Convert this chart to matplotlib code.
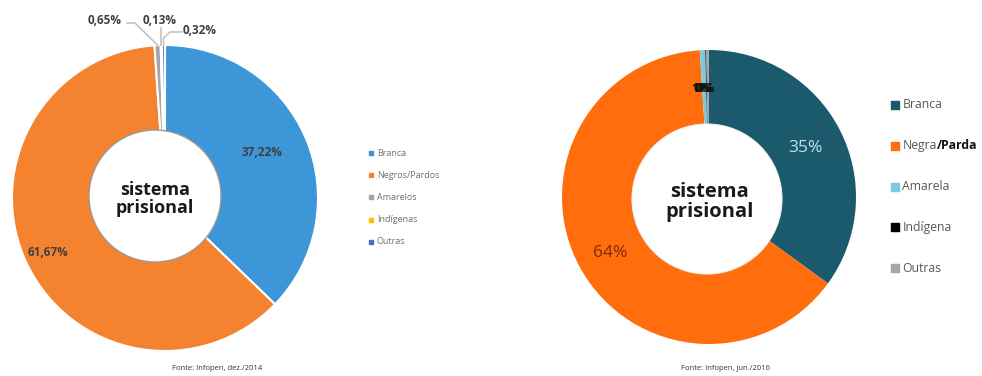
#!/usr/bin/env python3
import numpy as np
import matplotlib
matplotlib.use("Agg")
import matplotlib.pyplot as plt
from matplotlib.patches import Circle

W, H = 982, 376

# dez./2014
cats_2014 = ["Branca", "Negros/Pardos", "Amarelos", "Indígenas", "Outras"]
vals_2014 = [37.22, 61.67, 0.65, 0.13, 0.32]
cols_2014 = ["#3C96D8", "#F5822F", "#A5A5A5", "#FFC000", "#4472C4"]

# jun./2016
cats_2016 = ["Branca", "Negra", "Amarela", "Indígena", "Outras"]
vals_2016 = [35, 64, 0.6, 0.1, 0.3]
cols_2016 = ["#1B5A6C", "#FF6D0C", "#7DC9E0", "#000000", "#A6A6A6"]

FONT = "Open Sans"


def Y(y):
    # pixel row (from top) -> data y
    return H - y


def pct_br(v):
    return f"{v:.2f}".replace(".", ",") + "%"


def wedge_point(w, r_frac=1.0):
    th = np.deg2rad((w.theta1 + w.theta2) / 2)
    cx, cy = w.center
    return cx + w.r * r_frac * np.cos(th), cy + w.r * r_frac * np.sin(th)


fig = plt.figure(figsize=(W / 100, H / 100), dpi=100)
ax = fig.add_axes([0, 0, 1, 1])

# ---- left donut ----
wl, _ = ax.pie(vals_2014, colors=cols_2014, startangle=90, counterclock=False,
               center=(165, Y(198)), radius=153,
               wedgeprops=dict(edgecolor="white", linewidth=1.5))
ax.add_patch(Circle((155, Y(196)), 66, facecolor="white", edgecolor="#9A9A9A",
                    linewidth=1.0, zorder=3))
ax.text(155, Y(199), "sistema\nprisional", ha="center", va="center",
        fontsize=13, fontweight="bold", family=FONT, color="#1A1A1A",
        linespacing=1.05, zorder=4)

ax.text(262, Y(152), pct_br(vals_2014[0]), ha="center", va="center",
        fontsize=8.5, fontweight="bold", family=FONT, color="#404040")
ax.text(48, Y(252), pct_br(vals_2014[1]), ha="center", va="center",
        fontsize=8.5, fontweight="bold", family=FONT, color="#404040")

# small slices: labels with leader lines
small_pos = [(105, 20), (160, 20), (200, 31)]
elbows = [(135, 23), (None, 28), (170, 32)]
for w, v, (lx, ly), (ex, ey) in zip(wl[2:], vals_2014[2:], small_pos, elbows):
    px, py = wedge_point(w, 1.0)
    ax.text(lx, Y(ly), pct_br(v), ha="center", va="center", fontsize=8.5,
            fontweight="bold", family=FONT, color="#404040")
    if ex is None:
        xs, ys = [px, px], [py, Y(ey)]
    elif ex > lx:
        xs, ys = [px, ex, lx + 22], [py, Y(ey), Y(ey)]
    else:
        xs, ys = [px, px, ex, lx - 18], [py, Y(38), Y(ey), Y(ey)]
    ax.plot(xs, ys, color="#C4C4C4", linewidth=1.2, zorder=2)

# left legend
for i, (c, col) in enumerate(zip(cats_2014, cols_2014)):
    yy = Y(153 + i * 22.2)
    ax.scatter([371], [yy], marker="s", s=5, color=col, zorder=4)
    ax.text(377, yy, c, ha="left", va="center", fontsize=6.5, family=FONT,
            color="#707070")

ax.text(217, Y(368), "Fonte: Infopen, dez./2014", ha="center", va="center",
        fontsize=5.5, family=FONT, color="#333333")

# ---- right donut ----
wr, _ = ax.pie(vals_2016, colors=cols_2016, startangle=90, counterclock=False,
               center=(709, Y(197)), radius=147,
               wedgeprops=dict(edgecolor="none", linewidth=0))
ax.add_patch(Circle((707, Y(199)), 75, facecolor="white", edgecolor="#F0F0F0",
                    linewidth=0.8, zorder=3))
ax.text(710, Y(202), "sistema\nprisional", ha="center", va="center",
        fontsize=14.5, fontweight="bold", family=FONT, color="#1A1A1A",
        linespacing=1.05, zorder=4)

ax.text(805, Y(148), f"{vals_2016[0]:.0f}%", ha="center", va="center",
        fontsize=12.5, family=FONT, color="#C2E3EF")
ax.text(610, Y(253), f"{vals_2016[1]:.0f}%", ha="center", va="center",
        fontsize=12.5, family=FONT, color="#7E2A0A")
# the three tiny slices print their labels on top of each other
for k, v in enumerate(vals_2016[2:]):
    ax.text(701 + 2 * k, Y(88), f"{v:.0f}%", ha="center", va="center",
            fontsize=9.5, fontweight="bold", family=FONT, color="#151515", zorder=4)

# right legend
for i, (c, col) in enumerate(zip(cats_2016, cols_2016)):
    yy = Y(105 + i * 40.8)
    ax.scatter([895], [yy], marker="s", s=34, color=col, zorder=4)
    t = ax.text(902.5, yy, c, ha="left", va="center", fontsize=8.8, family=FONT,
                color="#595959")
    if c == "Negra":
        ax.annotate("/Parda", xy=(1, 0), xycoords=t, ha="left", va="bottom",
                    fontsize=8.8, fontweight="bold", family=FONT, color="#111111")

ax.text(726, Y(368), "Fonte: Infopen, jun./2016", ha="center", va="center",
        fontsize=5.5, family=FONT, color="#333333")

ax.set_xlim(0, W)
ax.set_ylim(0, H)
ax.set_aspect("auto")
ax.axis("off")

fig.savefig("out.png", dpi=100, facecolor="white")
